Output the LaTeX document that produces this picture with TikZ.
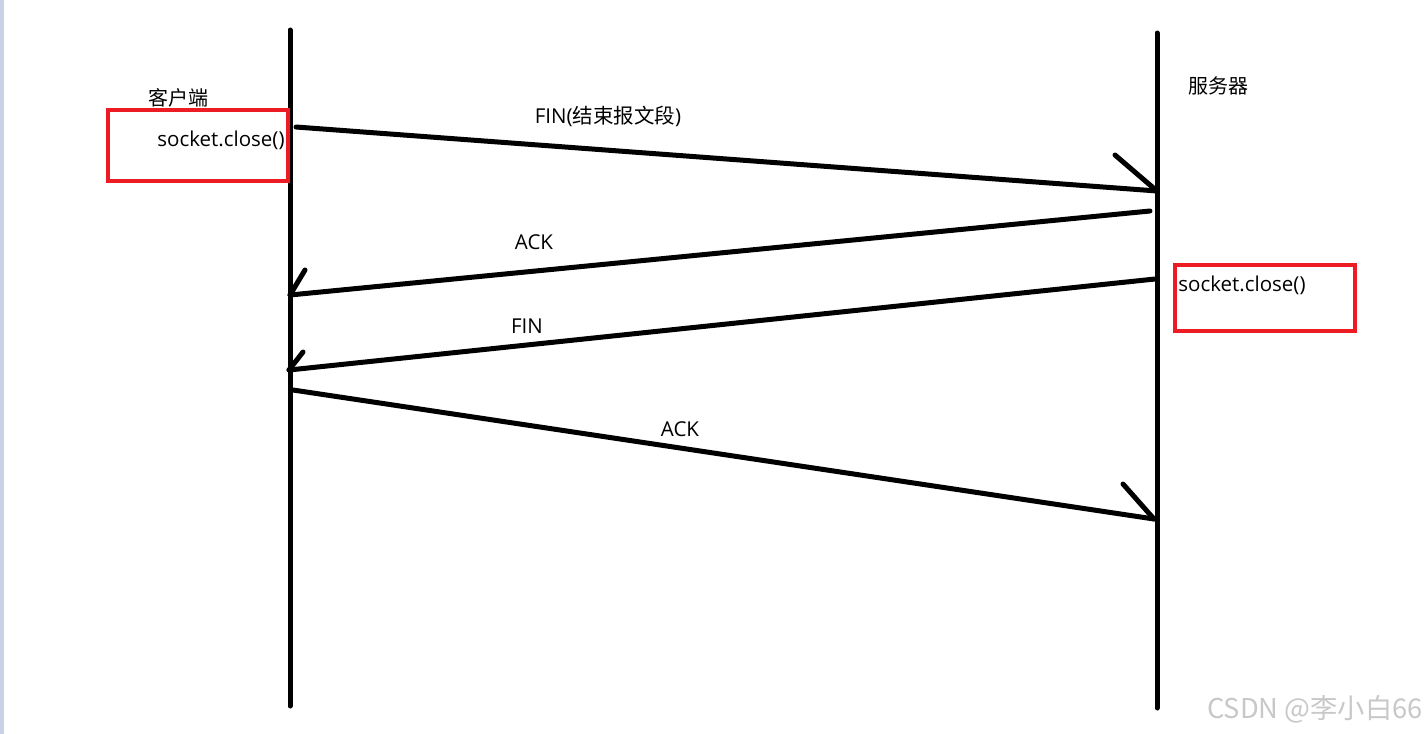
\documentclass[tikz,border=0pt]{standalone}
\usepackage{fontspec}
\setmainfont{Open Sans}
\newfontfamily\cjk{Noto Sans CJK SC}
\definecolor{boxred}{HTML}{ED1C24}
\definecolor{stripblue}{HTML}{C9D3E6}
\definecolor{wmgrey}{HTML}{C8C8C8}
\begin{document}
\begin{tikzpicture}[x=1pt,y=-1pt,
  life/.style={line width=5pt,line cap=round},
  msg/.style={line width=5pt,line cap=round},
  redbox/.style={draw=boxred,line width=4pt},
  lbl/.style={font=\fontsize{20.5}{24}\selectfont,inner sep=0pt},
  cjklbl/.style={font=\cjk\fontsize{20}{24}\selectfont,inner sep=0pt}]
\useasboundingbox (0,0) rectangle (1428,734);
\fill[white] (0,0) rectangle (1428,734);
\fill[stripblue] (0,0) rectangle (4,734);
% lifelines
\coordinate (c1) at (290,30);
\coordinate (c2) at (290,706);
\coordinate (s1) at (1157,33);
\coordinate (s2) at (1157,708);
\draw[life] (c1) -- (c2);
\draw[life] (s1) -- (s2);
% boxes
\draw[redbox] (108,110) rectangle (288,181);
\draw[redbox] (1175,265) rectangle (1355,331);
\node[cjklbl] (client) at (178,98) {客户端};
\node[cjklbl] (server) at (1218,86) {服务器};
\node[lbl] (cclose) at (221,140) {socket.close()};
\node[lbl] (sclose) at (1242,285) {socket.close()};
% message 1
\coordinate (m1a) at (296,127);
\coordinate (m1b) at (1157,191);
\coordinate (h1) at (1115,155);
\draw[msg] (m1a) -- (m1b);
\draw[msg] (h1) -- (m1b);
\node[lbl] (l1) at (608,116) {FIN({\cjk 结束报文段})};
% message 2
\coordinate (m2a) at (1150,211);
\coordinate (m2b) at (290,295);
\coordinate (h2) at (305,270);
\draw[msg] (m2a) -- (m2b);
\draw[msg] (h2) -- (m2b);
\node[lbl] (l2) at (534,242) {ACK};
% message 3
\coordinate (m3a) at (1155,279);
\coordinate (m3b) at (289,370);
\coordinate (h3) at (303,352);
\draw[msg] (m3a) -- (m3b);
\draw[msg] (h3) -- (m3b);
\node[lbl] (l3) at (527,326) {FIN};
% message 4
\coordinate (m4a) at (293,390);
\coordinate (m4b) at (1154,519);
\coordinate (h4) at (1123,484);
\draw[msg] (m4a) -- (m4b);
\draw[msg] (h4) -- (m4b);
\node[lbl] (l4) at (680,429) {ACK};
% watermark
\node[font=\cjk\fontsize{27.3}{32}\selectfont,text=wmgrey,inner sep=0pt] (wm) at (1315,709) {CSDN @李小白66};
\end{tikzpicture}
\end{document}
